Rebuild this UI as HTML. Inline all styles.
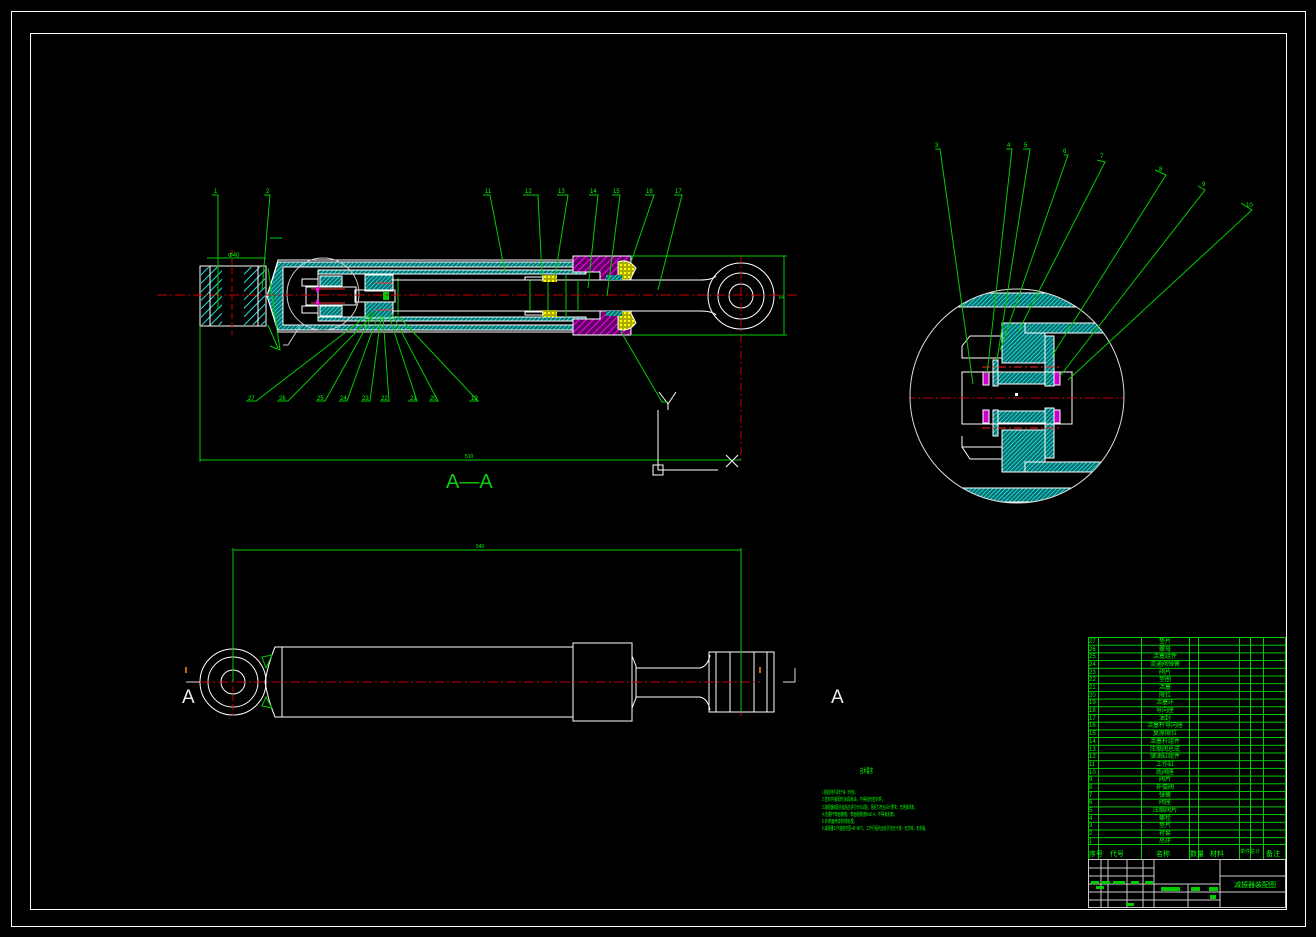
<!DOCTYPE html>
<html><head><meta charset="utf-8"><style>
html,body{margin:0;padding:0;background:#000;}
svg{display:block}
text{font-family:"Liberation Sans","Noto Sans CJK SC",sans-serif;fill:#0f0}
</style></head><body>
<svg width="1316" height="937" viewBox="0 0 1316 937" xmlns="http://www.w3.org/2000/svg">
<defs>
<pattern id="h" width="3" height="3" patternUnits="userSpaceOnUse" patternTransform="rotate(45)">
<rect width="3" height="3" fill="#0a6a6a"/><line x1="0" y1="0" x2="0" y2="3" stroke="#2ee" stroke-width="1.6"/></pattern>
<pattern id="hb" width="6" height="6" patternUnits="userSpaceOnUse" patternTransform="rotate(45)">
<rect width="6" height="6" fill="#000"/><line x1="0" y1="0" x2="0" y2="6" stroke="#2dd" stroke-width="2"/></pattern>
<pattern id="m" width="5" height="5" patternUnits="userSpaceOnUse" patternTransform="rotate(45)">
<rect width="5" height="5" fill="#600060"/><line x1="0" y1="0" x2="0" y2="5" stroke="#f0f" stroke-width="2"/></pattern>
<pattern id="y" width="4" height="4" patternUnits="userSpaceOnUse">
<rect width="4" height="4" fill="#aa0"/><rect width="2" height="2" fill="#ff0"/></pattern>
<pattern id="rows" width="200" height="7.7" patternUnits="userSpaceOnUse" y="637">
<line x1="0" y1="0.5" x2="200" y2="0.5" stroke="#0c0" stroke-width="1"/></pattern>
</defs>
<rect x="11.5" y="11.5" width="1294" height="915" fill="none" stroke="#fff" stroke-width="1"/>
<rect x="30.5" y="33.5" width="1256" height="876" fill="none" stroke="#fff" stroke-width="1"/>

<g stroke-width="1">
<rect x="200" y="266" width="66" height="60" fill="none" stroke="#fff"/>
<rect x="201" y="267" width="21" height="58" fill="url(#hb)"/>
<rect x="244" y="267" width="21" height="58" fill="url(#hb)"/>
<line x1="210" y1="266" x2="210" y2="326" stroke="#fff"/>
<line x1="258" y1="266" x2="258" y2="326" stroke="#fff"/>
<line x1="232" y1="250" x2="232" y2="335" stroke="#c00" stroke-dasharray="6,3"/>
<line x1="207" y1="258" x2="266" y2="258" stroke="#0c0"/>
<text x="228" y="257" font-size="6">Φ40</text>
<path d="M267 296 L278 262 L602 262 L602 267 L283 267 L283 325 L602 325 L602 330 L278 330 Z" fill="url(#h)" stroke="#fff"/>
<path d="M267 296 L278 260 L602 260 M267 296 L278 332 L602 332" fill="none" stroke="#fff"/>
<rect x="318" y="270" width="268" height="4" fill="url(#h)" stroke="#fff"/>
<rect x="318" y="317" width="268" height="4" fill="url(#h)" stroke="#fff"/>
<line x1="318" y1="270" x2="318" y2="321" stroke="#fff"/>
<rect x="320" y="276" width="22" height="10" fill="url(#h)" stroke="#fff"/>
<rect x="320" y="306" width="22" height="10" fill="url(#h)" stroke="#fff"/>
<rect x="306" y="287" width="50" height="18" fill="none" stroke="#fff"/>
<rect x="302" y="279" width="16" height="7" fill="none" stroke="#fff"/>
<rect x="302" y="306" width="16" height="7" fill="none" stroke="#fff"/>
<line x1="311" y1="289" x2="345" y2="289" stroke="#f33"/>
<line x1="311" y1="303" x2="345" y2="303" stroke="#f33"/>
<rect x="316" y="287" width="3" height="5" fill="#f0f"/><rect x="316" y="300" width="3" height="5" fill="#f0f"/>
<rect x="365" y="275" width="28" height="16" fill="url(#h)" stroke="#fff"/>
<rect x="365" y="302" width="28" height="16" fill="url(#h)" stroke="#fff"/>
<rect x="355" y="290" width="40" height="12" fill="none" stroke="#fff"/>
<line x1="375" y1="283" x2="392" y2="283" stroke="#f33"/>
<line x1="375" y1="310" x2="392" y2="310" stroke="#f33"/>
<rect x="383" y="292" width="6" height="8" fill="#0c0"/>
<line x1="398" y1="278" x2="398" y2="315" stroke="#0c0"/>
<path d="M392 280 L700 280 Q712 280 716 276 M392 311 L700 311 Q712 311 716 315" fill="none" stroke="#fff"/>
<line x1="530" y1="280" x2="530" y2="311" stroke="#0c0"/>
<line x1="548" y1="275" x2="548" y2="318" stroke="#0c0"/>
<line x1="566" y1="275" x2="566" y2="318" stroke="#0c0"/>
<line x1="578" y1="280" x2="578" y2="311" stroke="#0c0"/>
<rect x="542" y="275" width="15" height="7" fill="url(#y)"/>
<rect x="542" y="310" width="15" height="7" fill="url(#y)"/>
<rect x="525" y="277" width="18" height="3" fill="none" stroke="#fff"/>
<rect x="525" y="312" width="18" height="3" fill="none" stroke="#fff"/>
<path d="M573 256 L631 256 L631 280 L600 280 L600 272 L573 272 Z" fill="url(#m)" stroke="#fff"/>
<path d="M573 335 L631 335 L631 311 L600 311 L600 319 L573 319 Z" fill="url(#m)" stroke="#fff"/>
<path d="M618 262 Q628 258 636 268 L630 280 L618 280 Z" fill="url(#y)" stroke="#fff"/>
<path d="M618 329 Q628 333 636 323 L630 311 L618 311 Z" fill="url(#y)" stroke="#fff"/>
<rect x="606" y="275" width="16" height="5" fill="url(#h)"/>
<rect x="606" y="311" width="16" height="5" fill="url(#h)"/>
<circle cx="741" cy="296" r="33" fill="none" stroke="#fff"/>
<circle cx="741" cy="296" r="23" fill="none" stroke="#fff"/>
<circle cx="741" cy="296" r="12" fill="none" stroke="#fff"/>
<line x1="741" y1="255" x2="741" y2="460" stroke="#c00" stroke-dasharray="8,3,2,3"/>
<path d="M631 256 L787 256 M631 335 L787 335 M784 256 L784 335" fill="none" stroke="#0c0"/>
<text x="779" y="299" font-size="5">64</text>
<circle cx="323" cy="294" r="36" fill="none" stroke="#ccc"/>
<path d="M300 326 L288 345 L283 345" fill="none" stroke="#ccc"/>
<line x1="157" y1="295" x2="800" y2="295" stroke="#c00" stroke-dasharray="10,3,2,3"/>
<path d="M200 326 L200 462 M200 460 L741 460" fill="none" stroke="#0c0"/>
<text x="465" y="458" font-size="5">510</text>
<path d="M658 410 L658 470 L718 470 M726 455 L738 467 M738 455 L726 467 M659 392 L668 404 L676 392 M668 404 L668 410" fill="none" stroke="#fff"/>
<rect x="653" y="465" width="10" height="10" fill="none" stroke="#fff"/>
<text x="446" y="488" font-size="20" style="fill:#1c1">A—A</text>
<g stroke="#0c0" fill="none">
<path d="M212 195 L218 195 L218 310"/>
<path d="M264 195 L270 195 L262 290"/>
<path d="M483 195 L490 195 L505 272"/>
<path d="M523 195 L538 195 L542 276"/>
<path d="M557 195 L568 195 L555 276"/>
<path d="M589 195 L598 195 L588 288"/>
<path d="M612 195 L620 195 L607 296"/>
<path d="M645 195 L654 195 L631 262"/>
<path d="M674 195 L682 195 L658 290"/>
<path d="M620 330 L662 402 L668 402"/>
<path d="M270 238 L282 238 M270 346 L280 350 L268 268 M268 325 L278 348"/>
</g>
<g font-size="6" fill="#0c0">
<text x="214" y="193">1</text><text x="266" y="193">2</text>
<text x="485" y="193">11</text><text x="525" y="193">12</text><text x="558" y="193">13</text>
<text x="590" y="193">14</text><text x="613" y="193">15</text><text x="646" y="193">16</text><text x="675" y="193">17</text>
</g>
<g stroke="#0c0" fill="none">
<path d="M246 401 L256 401 L372 312"/>
<path d="M277 401 L288 401 L375 313"/>
<path d="M316 401 L325 401 L373 315"/>
<path d="M339 401 L347 401 L378 315"/>
<path d="M361 401 L370 401 L381 316"/>
<path d="M380 401 L389 401 L383 316"/>
<path d="M408 401 L417 401 L389 316"/>
<path d="M429 401 L438 401 L392 314"/>
<path d="M469 401 L478 401 L398 316"/>
</g>
<g font-size="6" fill="#0c0">
<text x="248" y="400">27</text><text x="279" y="400">26</text><text x="317" y="400">25</text><text x="340" y="400">24</text>
<text x="362" y="400">23</text><text x="381" y="400">22</text><text x="410" y="400">21</text><text x="430" y="400">20</text><text x="471" y="400">19</text>
</g>
</g>

<g>
<clipPath id="dc"><circle cx="1017" cy="396" r="107"/></clipPath>
<g clip-path="url(#dc)">
<rect x="900" y="293" width="240" height="14" fill="url(#h)" stroke="#fff"/>
<rect x="900" y="488" width="240" height="14" fill="url(#h)" stroke="#fff"/>
<rect x="1002" y="323" width="43" height="40" fill="url(#h)" stroke="#fff"/>
<rect x="1002" y="430" width="43" height="42" fill="url(#h)" stroke="#fff"/>
<rect x="1025" y="323" width="80" height="10" fill="url(#h)" stroke="#fff"/>
<rect x="1025" y="462" width="80" height="10" fill="url(#h)" stroke="#fff"/>
<rect x="998" y="372" width="47" height="12" fill="url(#h)" stroke="#fff"/>
<rect x="998" y="411" width="47" height="12" fill="url(#h)" stroke="#fff"/>
<rect x="1045" y="336" width="9" height="50" fill="url(#h)" stroke="#fff"/>
<rect x="1045" y="408" width="9" height="50" fill="url(#h)" stroke="#fff"/>
<rect x="993" y="360" width="5" height="26" fill="url(#h)" stroke="#fff"/>
<rect x="993" y="410" width="5" height="26" fill="url(#h)" stroke="#fff"/>
<rect x="983" y="372" width="6" height="13" fill="#c0c" stroke="#fff"/>
<rect x="983" y="410" width="6" height="13" fill="#c0c" stroke="#fff"/>
<rect x="1054" y="372" width="6" height="13" fill="#c0c" stroke="#fff"/>
<rect x="1054" y="410" width="6" height="13" fill="#c0c" stroke="#fff"/>
<path d="M962 372 L962 424 L1072 424 L1072 372 Z M962 346 L970 336 L1002 336 M962 346 L962 358 L1002 358 M962 436 L962 447 L1002 447 M962 447 L970 459 L1002 459" fill="none" stroke="#fff"/>
<line x1="982" y1="367" x2="1062" y2="367" stroke="#f22" stroke-dasharray="8,3,2,3"/>
<line x1="982" y1="428" x2="1062" y2="428" stroke="#f22" stroke-dasharray="8,3,2,3"/>
<line x1="905" y1="398" x2="1130" y2="398" stroke="#c00" stroke-dasharray="10,3,2,3"/>
<rect x="1015" y="393" width="3" height="3" fill="#fff"/>
</g>
<circle cx="1017" cy="396" r="107" fill="none" stroke="#ddd"/>
<g stroke="#0c0" fill="none">
<path d="M935 149 L940 149 L973 384"/>
<path d="M1006 149 L1012 149 L987 374"/>
<path d="M1023 149 L1030 149 L997 360"/>
<path d="M1064 155 L1068 155 L1000 350"/>
<path d="M1097 160 L1105 162 L1018 332"/>
<path d="M1155 170 L1166 175 L1052 356"/>
<path d="M1198 186 L1205 190 L1060 376"/>
<path d="M1241 203 L1252 210 L1068 380"/>
</g>
<g font-size="6" fill="#0c0">
<text x="935" y="147">3</text><text x="1007" y="147">4</text><text x="1024" y="147">5</text><text x="1063" y="153">6</text>
<text x="1100" y="158">7</text><text x="1159" y="171">8</text><text x="1202" y="186">9</text><text x="1246" y="207">10</text>
</g>
</g>

<g fill="none" stroke="#fff">
<circle cx="233" cy="682" r="33"/><circle cx="233" cy="682" r="25"/><circle cx="233" cy="682" r="12"/>
<path d="M275 647 L573 647 L573 717 L275 717 Q268 700 265 682 Q268 664 275 647 Z"/>
<line x1="282" y1="647" x2="282" y2="717"/>
<rect x="573" y="643" width="59" height="78"/>
<path d="M632 656 L636 666 L636 698 L632 708"/>
<path d="M636 668 L700 668 Q708 666 710 655 M636 697 L700 697 Q708 699 710 710"/>
<rect x="709" y="652" width="65" height="60"/>
<line x1="716" y1="652" x2="716" y2="712"/><line x1="730" y1="652" x2="730" y2="712"/>
<line x1="754" y1="652" x2="754" y2="712"/><line x1="767" y1="652" x2="767" y2="712"/>
<path d="M186 682 L200 682 M795 668 L795 682 L783 682" stroke="#ddd"/>
</g>
<line x1="200" y1="682" x2="760" y2="682" stroke="#c00" stroke-dasharray="10,3,2,3"/>
<line x1="233" y1="650" x2="233" y2="716" stroke="#c00" stroke-dasharray="6,3"/>
<line x1="741" y1="650" x2="741" y2="716" stroke="#c00" stroke-dasharray="6,3"/>
<path d="M233 548 L233 682 M741 548 L741 712 M233 550 L741 550" stroke="#0c0" fill="none"/>
<text x="476" y="548" font-size="5">540</text>
<path d="M262 657 L272 655 L266 668 Z M262 706 L272 708 L266 697 Z" fill="none" stroke="#0c0"/>
<text x="182" y="703" font-size="19" style="fill:#eee">A</text>
<text x="831" y="703" font-size="19" style="fill:#eee">A</text>
<rect x="185" y="667" width="2" height="6" fill="#c60"/><rect x="759" y="667" width="2" height="6" fill="#c60"/>

<g font-size="5" fill="#0c0" lengthAdjust="spacingAndGlyphs">
<text x="860" y="773" font-size="7" textLength="13" lengthAdjust="spacingAndGlyphs">技术要求</text>
<text x="822" y="794" textLength="35" lengthAdjust="spacingAndGlyphs">1.装配前零件清洗干净，无毛刺。</text>
<text x="822" y="801" textLength="63" lengthAdjust="spacingAndGlyphs">2.密封件装配时涂润滑油，不得划伤密封件。</text>
<text x="822" y="809" textLength="95" lengthAdjust="spacingAndGlyphs">3.减振器装配完成后应进行示功试验，阻尼力符合设计要求，无泄漏现象。</text>
<text x="822" y="816" textLength="75" lengthAdjust="spacingAndGlyphs">4.活塞杆表面镀铬，表面粗糙度Ra0.4，不得有划痕。</text>
<text x="822" y="823" textLength="35" lengthAdjust="spacingAndGlyphs">5.外表面喷漆防锈处理。</text>
<text x="822" y="830" textLength="106" lengthAdjust="spacingAndGlyphs">6.减振器工作温度范围-40~80℃，工作行程内运动灵活无卡滞，无异响，无渗漏。</text>
</g>

<g>
<rect x="1088" y="637" width="197" height="207.9" fill="url(#rows)"/>
<g stroke="#0c0" fill="none">
<rect x="1088.5" y="637.5" width="197" height="222"/>
<line x1="1088" y1="844.5" x2="1285" y2="844.5"/>
<line x1="1098.5" y1="637" x2="1098.5" y2="860"/>
<line x1="1141.5" y1="637" x2="1141.5" y2="860"/>
<line x1="1189.5" y1="637" x2="1189.5" y2="860"/>
<line x1="1198.5" y1="637" x2="1198.5" y2="860"/>
<line x1="1239.5" y1="637" x2="1239.5" y2="860"/>
<line x1="1250.5" y1="637" x2="1250.5" y2="860"/>
<line x1="1263.5" y1="637" x2="1263.5" y2="860"/>
</g>
<g font-size="6" fill="#0c0">
<text x="1089" y="643">27</text><text x="1089" y="651">26</text><text x="1089" y="658">25</text><text x="1089" y="666">24</text>
<text x="1089" y="674">23</text><text x="1089" y="681">22</text><text x="1089" y="689">21</text><text x="1089" y="697">20</text>
<text x="1089" y="704">19</text><text x="1089" y="712">18</text><text x="1089" y="720">17</text><text x="1089" y="727">16</text>
<text x="1089" y="735">15</text><text x="1089" y="743">14</text><text x="1089" y="751">13</text><text x="1089" y="758">12</text>
<text x="1089" y="766">11</text><text x="1089" y="774">10</text><text x="1089" y="781">9</text><text x="1089" y="789">8</text>
<text x="1089" y="797">7</text><text x="1089" y="804">6</text><text x="1089" y="812">5</text><text x="1089" y="820">4</text>
<text x="1089" y="827">3</text><text x="1089" y="835">2</text><text x="1089" y="843">1</text>
</g>
<g font-size="6" fill="#0c0" text-anchor="middle">
<text x="1165" y="643">垫片</text><text x="1165" y="651">螺母</text><text x="1165" y="658">活塞组件</text><text x="1165" y="666">流通阀弹簧</text>
<text x="1165" y="674">阀片</text><text x="1165" y="681">垫圈</text><text x="1165" y="689">活塞</text><text x="1165" y="697">限位</text>
<text x="1165" y="704">活塞环</text><text x="1165" y="712">导向座</text><text x="1165" y="720">油封</text><text x="1165" y="727">活塞杆导向座</text>
<text x="1165" y="735">复原限位</text><text x="1165" y="743">活塞杆组件</text><text x="1165" y="751">压缩阀总成</text><text x="1165" y="758">储油缸组件</text>
<text x="1165" y="766">工作缸</text><text x="1165" y="774">底阀座</text><text x="1165" y="781">阀片</text><text x="1165" y="789">补偿阀</text>
<text x="1165" y="797">弹簧</text><text x="1165" y="804">阀座</text><text x="1165" y="812">压缩阀片</text><text x="1165" y="820">螺栓</text>
<text x="1165" y="827">垫片</text><text x="1165" y="835">衬套</text><text x="1165" y="843">吊环</text>
</g>
<g font-size="7" fill="#0c0">
<text x="1089" y="856">序号</text><text x="1110" y="856">代号</text><text x="1156" y="856">名称</text>
<text x="1190" y="856">数量</text><text x="1210" y="856">材料</text><text x="1240" y="853" font-size="5">单件总计</text><text x="1266" y="856">备注</text>
</g>
<g stroke="#ccc" fill="none">
<rect x="1088.5" y="859.5" width="197" height="48"/>
<line x1="1088" y1="868" x2="1154" y2="868"/><line x1="1088" y1="876" x2="1154" y2="876"/>
<line x1="1088" y1="884" x2="1220" y2="884"/><line x1="1088" y1="892" x2="1220" y2="892"/>
<line x1="1088" y1="900" x2="1220" y2="900"/>
<line x1="1101" y1="860" x2="1101" y2="908"/><line x1="1108" y1="860" x2="1108" y2="908"/>
<line x1="1127" y1="860" x2="1127" y2="908"/><line x1="1143" y1="860" x2="1143" y2="908"/>
<line x1="1154" y1="860" x2="1154" y2="908"/><line x1="1188" y1="884" x2="1188" y2="908"/>
<line x1="1220" y1="860" x2="1220" y2="908"/>
<line x1="1220" y1="876" x2="1285" y2="876"/><line x1="1220" y1="892" x2="1285" y2="892"/>
</g>
<g fill="#0c0">
<rect x="1091" y="881" width="8" height="3"/><rect x="1102" y="881" width="8" height="3"/><rect x="1113" y="881" width="12" height="3"/>
<rect x="1131" y="881" width="8" height="3"/><rect x="1145" y="881" width="8" height="3"/><rect x="1096" y="886" width="8" height="3"/>
<rect x="1161" y="887" width="19" height="4"/><rect x="1191" y="887" width="9" height="4"/><rect x="1209" y="887" width="9" height="4"/>
<rect x="1210" y="895" width="6" height="4"/><rect x="1126" y="903" width="8" height="3"/>
</g>
<text x="1234" y="887" font-size="7" fill="#0c0">减振器装配图</text>
</g>
</svg>
</body></html>
